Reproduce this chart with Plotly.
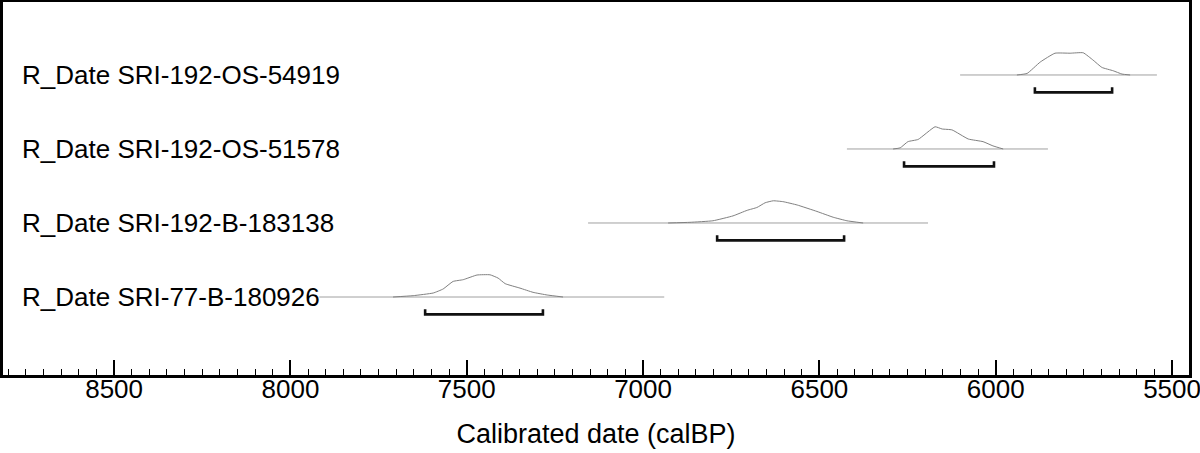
import plotly.graph_objects as go

# Rows from top to bottom
labels = [
    "R_Date SRI-192-OS-54919",
    "R_Date SRI-192-OS-51578",
    "R_Date SRI-192-B-183138",
    "R_Date SRI-77-B-180926",
]

# extent of the thin baseline of each distribution (calBP)
line_from = [6101, 6422, 7156, 7918]
line_to = [5543, 5852, 6192, 6940]

# 95.4% ranges (brackets)
range_old = [5889, 6260, 6790, 7618]
range_young = [5670, 6005, 6430, 7284]

# probability outlines: calBP years and relative probability
prob_years = [
    [5940, 5911, 5874, 5832, 5789, 5752, 5724, 5699, 5667, 5642, 5619],
    [6291, 6271, 6249, 6220, 6172, 6152, 6124, 6078, 6036, 6008, 5979],
    [6929, 6867, 6802, 6745, 6705, 6677, 6654, 6631, 6603, 6563, 6507, 6461, 6422, 6376],
    [7709, 7652, 7595, 7567, 7539, 7510, 7471, 7434, 7411, 7391, 7349, 7312, 7272, 7227],
]
prob_values = [
    [0.0, 0.07, 0.58, 0.98, 0.98, 1.0, 0.67, 0.34, 0.19, 0.04, 0.0],
    [0.0, 0.05, 0.33, 0.43, 1.0, 0.9, 0.86, 0.45, 0.33, 0.14, 0.0],
    [0.0, 0.03, 0.10, 0.32, 0.57, 0.70, 0.91, 1.0, 0.96, 0.81, 0.52, 0.26, 0.10, 0.0],
    [0.0, 0.06, 0.18, 0.36, 0.70, 0.78, 0.99, 1.0, 0.85, 0.60, 0.40, 0.21, 0.09, 0.0],
]

x_title = "Calibrated date (calBP)"

FONT = "Liberation Sans, Arial, sans-serif"
PEAK = 0.3        # height of a peak, in row units
BR_DROP = 0.235   # bracket offset below the baseline
BR_TICK = 0.07    # bracket end height

fig = go.Figure()

n = len(labels)
for i, label in enumerate(labels):
    base = n - 1 - i
    # baseline
    fig.add_scatter(
        x=[line_from[i], line_to[i]],
        y=[base, base],
        mode="lines",
        line={"color": "#a0a0a0", "width": 1},
        showlegend=False,
        hoverinfo="skip",
    )
    # outline of the distribution
    fig.add_scatter(
        x=prob_years[i],
        y=[base + PEAK * p for p in prob_values[i]],
        mode="lines",
        line={"color": "#808080", "width": 1, "shape": "spline", "smoothing": 0.4},
        showlegend=False,
        name=label,
    )
    # range bracket
    yb = base - BR_DROP
    fig.add_scatter(
        x=[range_old[i], range_old[i], range_young[i], range_young[i]],
        y=[yb + BR_TICK, yb, yb, yb + BR_TICK],
        mode="lines",
        line={"color": "#111", "width": 2.6},
        showlegend=False,
        hoverinfo="skip",
    )
    fig.add_annotation(
        text=label,
        xref="paper",
        x=0.0143,
        y=base,
        xanchor="left",
        yanchor="middle",
        showarrow=False,
        font={"size": 26, "color": "#000", "family": FONT},
    )

fig.update_xaxes(
    range=[8815, 5452],
    showgrid=False,
    zeroline=False,
    showline=True,
    mirror=True,
    linecolor="#000",
    linewidth=2.6,
    ticks="inside",
    ticklen=15,
    tickwidth=2,
    tickcolor="#000",
    tickmode="linear",
    tick0=5500,
    dtick=500,
    ticklabeloverflow="allow",
    ticklabelstandoff=-11,
    minor={"ticks": "inside", "ticklen": 6, "tickwidth": 1.3, "tickcolor": "#000", "dtick": 50, "showgrid": False},
    tickfont={"size": 26, "color": "#000", "family": FONT},
    title={"text": x_title, "font": {"size": 27, "color": "#000", "family": FONT}, "standoff": 22},
    automargin=False,
)
fig.update_yaxes(
    range=[-1.054, 3.986],
    showgrid=False,
    zeroline=False,
    showline=True,
    mirror=True,
    linecolor="#000",
    linewidth=2.6,
    showticklabels=False,
    ticks="",
    automargin=False,
)
fig.update_layout(
    width=1200,
    height=453,
    margin={"l": 3, "r": 11, "t": 2, "b": 78},
    plot_bgcolor="#fff",
    paper_bgcolor="#fff",
    font={"family": FONT, "color": "#000"},
)

fig.write_html(
    "out.html",
    config={"displayModeBar": False},
    post_script="document.body.style.margin='0';document.body.style.overflow='hidden';",
)
